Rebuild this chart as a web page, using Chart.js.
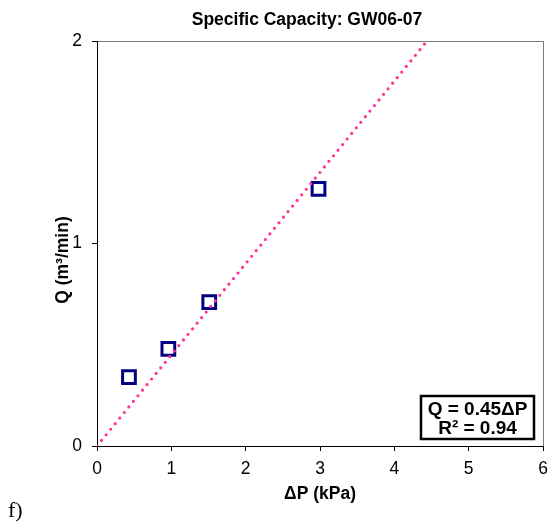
<!DOCTYPE html>
<html>
<head>
<meta charset="utf-8">
<script src="https://cdn.jsdelivr.net/npm/chart.js@4.4.1/dist/chart.umd.min.js"></script>
<style>
  html, body { margin: 0; padding: 0; background: #fff; }
  #wrap { position: relative; width: 556px; height: 529px; }
  #panel { position: absolute; left: 8px; top: 497px; font: 22px "Liberation Serif", "Times New Roman", serif; color: #000; }
</style>
</head>
<body>
<div id="wrap">
  <canvas id="chart" width="556" height="529"></canvas>
  <div id="panel">f)</div>
</div>
<script>
const titleText = 'Specific Capacity: GW06-07';
const xTitle = 'ΔP (kPa)';
const yTitle = 'Q (m³/min)';
const equationLines = ['Q = 0.45ΔP', 'R² = 0.94'];

// measured points
const deltaP = [0.43, 0.96, 1.51, 2.98];
const flowQ = [0.34, 0.48, 0.71, 1.27];

// linear trendline through origin, as drawn
const trendX = [0, 4.44];
const trendY = [0, 2];

const xTicks = [0, 1, 2, 3, 4, 5, 6];
const yTicks = [0, 1, 2];

const FONT = '"Liberation Sans", Arial, sans-serif';

const frame = {
  id: 'frame',
  beforeDraw(chart) {
    const { ctx, chartArea: a } = chart;
    ctx.save();
    ctx.strokeStyle = '#7a7a7a';
    ctx.lineWidth = 1;
    ctx.beginPath();
    ctx.moveTo(a.left, a.top + 0.5);
    ctx.lineTo(a.right + 0.5, a.top + 0.5);
    ctx.lineTo(a.right + 0.5, a.bottom);
    ctx.stroke();
    ctx.restore();
  }
};

const labels = {
  id: 'labels',
  afterDraw(chart) {
    const ctx = chart.ctx;
    ctx.save();
    ctx.fillStyle = '#000';
    ctx.textAlign = 'center';
    ctx.textBaseline = 'alphabetic';

    ctx.font = `bold 17.5px ${FONT}`;
    ctx.fillText(titleText, 307, 25);
    ctx.fillText(xTitle, 320, 499);

    ctx.save();
    ctx.translate(63, 260);
    ctx.rotate(-Math.PI / 2);
    ctx.textBaseline = 'middle';
    ctx.fillText(yTitle, 0, 0);
    ctx.restore();

    // equation box
    ctx.fillStyle = '#fff';
    ctx.fillRect(421, 396, 113, 43);
    ctx.strokeStyle = '#000';
    ctx.lineWidth = 2.5;
    ctx.strokeRect(421, 396, 113, 43);
    ctx.fillStyle = '#000';
    ctx.font = `bold 19px ${FONT}`;
    ctx.fillText(equationLines[0], 477.5, 415);
    ctx.fillText(equationLines[1], 477.5, 434);
    ctx.restore();
  }
};

const tickStyle = {
  color: '#000',
  font: { family: FONT, size: 17.5 },
  maxRotation: 0
};

new Chart(document.getElementById('chart'), {
  type: 'scatter',
  data: {
    datasets: [
      {
        type: 'line',
        label: 'Trendline',
        data: trendX.map((x, i) => ({ x, y: trendY[i] })),
        borderColor: '#ff3399',
        borderWidth: 3.2,
        borderDash: [0, 7.2],
        borderCapStyle: 'round',
        pointRadius: 0,
        fill: false,
        order: 0
      },
      {
        label: 'Measured',
        data: deltaP.map((x, i) => ({ x, y: flowQ[i] })),
        pointStyle: 'rect',
        pointRadius: 9,
        pointHoverRadius: 9,
        pointBorderWidth: 3,
        pointBorderColor: '#000080',
        pointBackgroundColor: 'rgba(0,0,0,0)',
        order: 1
      }
    ]
  },
  plugins: [frame, labels],
  options: {
    responsive: false,
    devicePixelRatio: 1,
    animation: false,
    layout: { padding: { top: 41, right: 13, left: 0, bottom: 0 } },
    plugins: { legend: { display: false }, title: { display: false }, tooltip: { enabled: false } },
    scales: {
      x: {
        type: 'linear',
        position: 'bottom',
        min: 0,
        max: 6,
        afterBuildTicks(scale) { scale.ticks = xTicks.map(v => ({ value: v })); },
        afterFit(scale) { scale.height = 83; },
        grid: { drawOnChartArea: false, drawTicks: true, tickLength: 5, color: '#000' },
        border: { color: '#000', width: 1 },
        ticks: { ...tickStyle, padding: 8 }
      },
      y: {
        type: 'linear',
        min: 0,
        max: 2,
        afterBuildTicks(scale) { scale.ticks = yTicks.map(v => ({ value: v })); },
        afterFit(scale) { scale.width = 97; },
        grid: { drawOnChartArea: false, drawTicks: true, tickLength: 5, color: '#000' },
        border: { color: '#000', width: 1 },
        ticks: { ...tickStyle, padding: 10 }
      }
    }
  }
});
</script>
</body>
</html>
